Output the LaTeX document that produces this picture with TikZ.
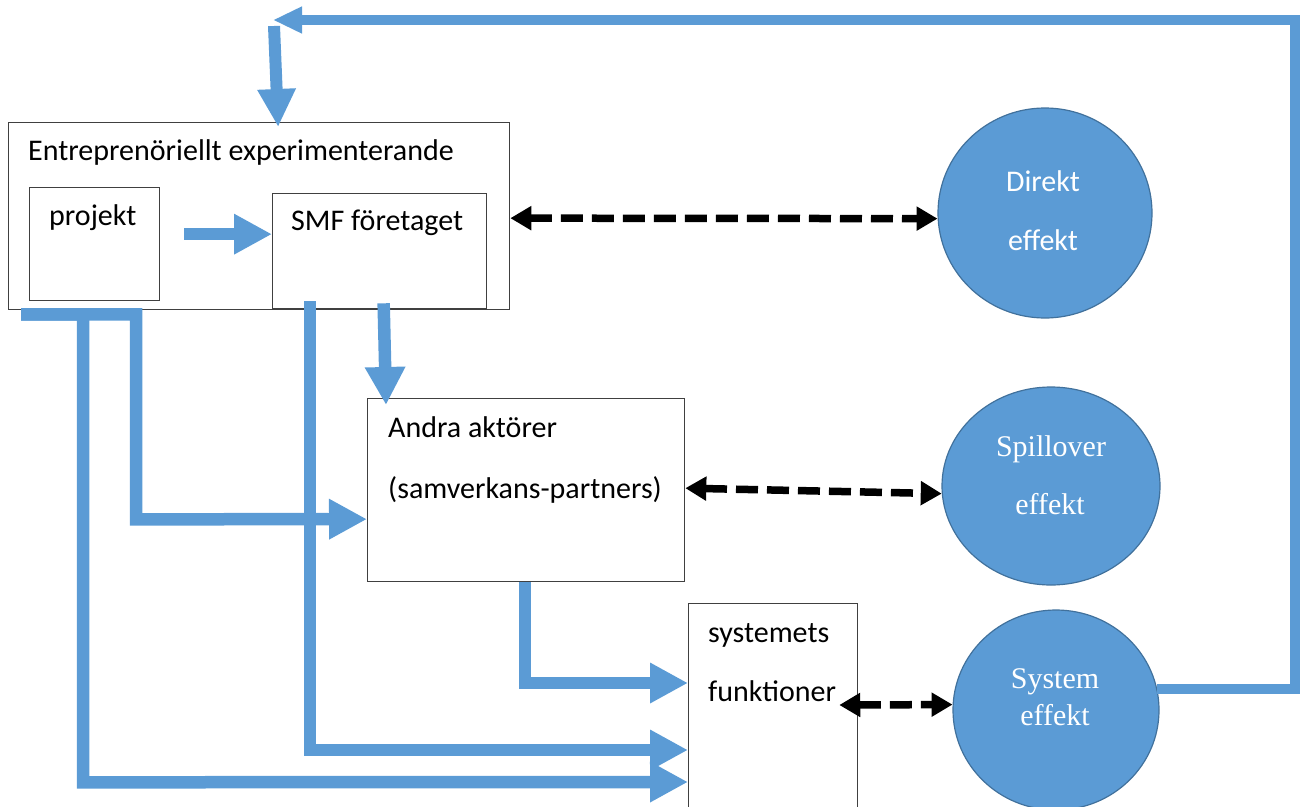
\documentclass[tikz,border=0pt]{standalone}
\usepackage{fontspec}
\setmainfont{Carlito}
\newfontfamily\serifeff{Liberation Serif}
\usetikzlibrary{shapes.geometric, arrows.meta}
\definecolor{effblue}{HTML}{5B9BD5}
\definecolor{effedge}{HTML}{41719C}

\begin{document}
\begin{tikzpicture}[x=1pt, y=-1pt,
    box/.style={draw=black!75, line width=1.3pt, anchor=north west, inner sep=0pt},
    lbl/.style={anchor=base west, inner sep=0pt, font=\fontsize{30}{36}\selectfont},
    eff/.style={ellipse, fill=effblue, draw=effedge, line width=1.2pt, inner sep=0pt},
    efflbl/.style={anchor=base, inner sep=0pt, text=white, font=\fontsize{30}{36}\selectfont},
    sefflbl/.style={efflbl, font=\fontsize{30}{36}\selectfont\serifeff},
    flow/.style={draw=effblue, line width=12.5pt, -{Triangle[length=38pt, width=38pt]}},
    dual/.style={line width=7.5pt, dash pattern=on 22pt off 9pt, {Triangle[length=21pt, width=23pt]}-{Triangle[length=21pt, width=23pt]}}]
    \useasboundingbox (0,0) rectangle (1301,806);

    \node[box, minimum width=501pt, minimum height=187pt] (ent) at (8,122) {};
    \node[box, minimum width=130pt, minimum height=113pt] (proj) at (29,187) {};
    \node[box, minimum width=214pt, minimum height=115pt] (smf) at (272,193) {};
    \node[box, minimum width=317pt, minimum height=183pt] (andra) at (367,398) {};
    \node[box, minimum width=169pt, minimum height=230pt] (sysbox) at (688,603) {};

    \node[eff, minimum width=214pt, minimum height=210pt] (direkt) at (1045,213) {};
    \node[eff, minimum width=218pt, minimum height=198pt] (spill) at (1051,486) {};
    \node[eff, minimum width=206pt, minimum height=200pt] (system) at (1056,710) {};

    \node[lbl] (enttxt) at (28,160) {Entreprenöriellt experimenterande};
    \node[lbl] (projtxt) at (49,225) {projekt};
    \node[lbl] (smftxt) at (291,230) {SMF företaget};
    \node[lbl] (andra1) at (388,437) {Andra aktörer};
    \node[lbl] (andra2) at (388,498) {(samverkans-partners)};
    \node[lbl] (sys1) at (708,642) {systemets};
    \node[lbl] (sys2) at (708,701) {funktioner};

    \node[efflbl] (direkt1) at (1043,191.5) {Direkt};
    \node[efflbl] (direkt2) at (1043,250) {effekt};
    \node[sefflbl] (spill1) at (1051,456) {Spillover};
    \node[sefflbl] (spill2) at (1050,514) {effekt};
    \node[sefflbl] (system1) at (1055,688) {System};
    \node[sefflbl] (system2) at (1055,725) {effekt};

    \coordinate (fbcorner) at (1295,20);
    \coordinate (fbtip) at (273,20);
    \draw[draw=effblue, line width=10pt, -{Triangle[length=29pt, width=25pt]}] (system.12) -| (fbcorner) -- (fbtip);
    \draw[flow, line width=12pt, -{Triangle[length=38pt, width=36pt]}] ([shift={(1,6)}]fbtip) -- ([shift={(19,5)}]ent.north);

    \draw[flow] ([shift={(24,-10)}]proj.east) -- ([shift={(0,-17)}]smf.west);
    \draw[flow] ([shift={(4,-6)}]smf.south) -- ([shift={(19,7)}]andra.north west);
    \draw[flow] ([shift={(38,-8)}]smf.south west) |- ([shift={(0,147)}]sysbox.north west);
    \draw[flow] ([shift={(158,0)}]andra.south west) |- ([shift={(0,80)}]sysbox.north west);
    \coordinate (lbar) at ([shift={(13,4)}]ent.south west);
    \draw[flow] (lbar) -| ++(115,205) -- ([shift={(0,29)}]andra.west);
    \draw[flow] (lbar) -| ++(62,468) -- ([shift={(0,179)}]sysbox.north west);

    \draw[dual] ([shift={(0,2)}]ent.east) -- (direkt.183);
    \draw[dual] ([shift={(0,-2)}]andra.east) -- (spill.184);
    \draw[dual] ([shift={(3,4)}]sys2.base east) -- (system.177);
\end{tikzpicture}
\end{document}
